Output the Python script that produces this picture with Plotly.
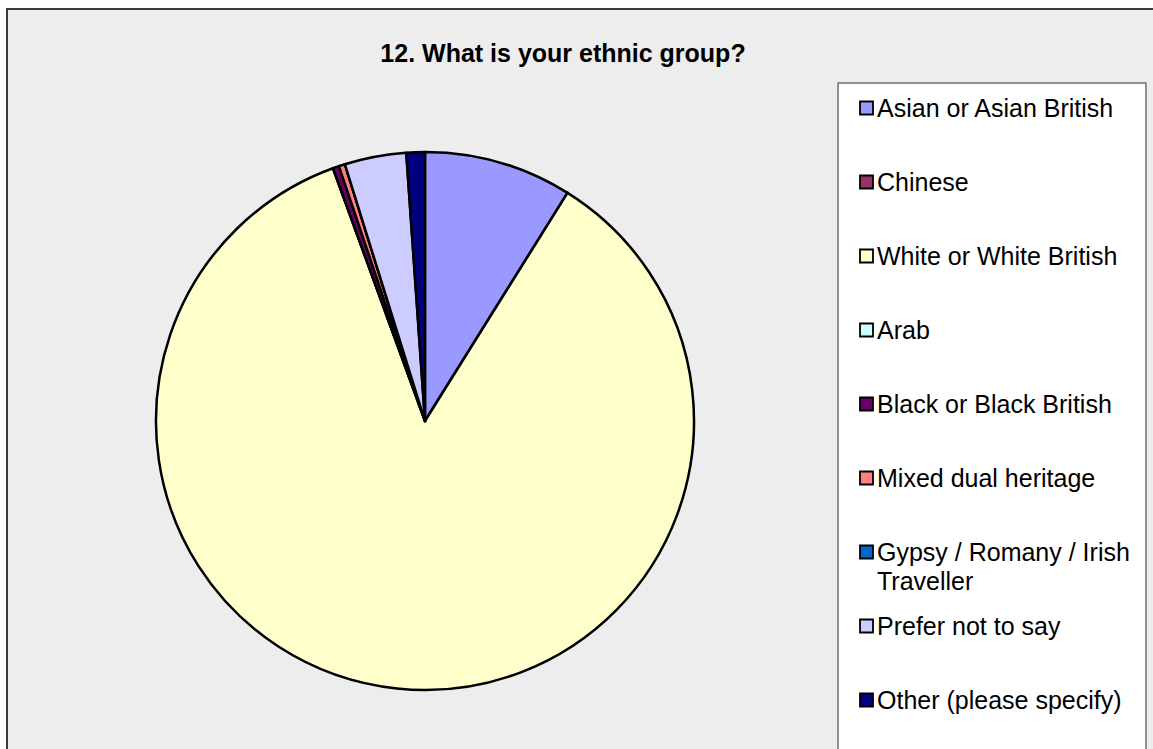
import plotly.graph_objects as go

# Survey responses: ethnic group
categories = [
    "Asian or Asian British",
    "Chinese",
    "White or White British",
    "Arab",
    "Black or Black British",
    "Mixed dual heritage",
    "Gypsy / Romany / Irish Traveller",
    "Prefer not to say",
    "Other (please specify)",
]
responses = [24, 0, 231, 0, 1, 1, 0, 10, 3]
colors = ["#9999FF", "#993366", "#FFFFCC", "#CCFFFF", "#660066",
          "#FF8080", "#0066CC", "#CCCCFF", "#000080"]
# how each legend label is broken across lines
legend_lines = [
    ["Asian or Asian British"],
    ["Chinese"],
    ["White or White British"],
    ["Arab"],
    ["Black or Black British"],
    ["Mixed dual heritage"],
    ["Gypsy / Romany / Irish", "Traveller"],
    ["Prefer not to say"],
    ["Other (please specify)"],
]

W, H = 1153, 749
FONT = "Liberation Sans, Arial, sans-serif"

def px(x):
    return x / W

def py(y):
    return 1 - y / H

cx, cy, r = 425, 421, 269

fig = go.Figure()
fig.add_trace(go.Pie(
    labels=categories,
    values=responses,
    marker=dict(colors=colors, line=dict(color="black", width=2.5)),
    sort=False,
    direction="clockwise",
    rotation=0,
    textinfo="none",
    showlegend=False,
    domain=dict(x=[px(cx - r), px(cx + r)], y=[py(cy + r), py(cy - r)]),
))

shapes = [
    # chart area frame
    dict(type="rect", xref="paper", yref="paper",
         x0=px(7), x1=px(1165), y0=py(9), y1=py(765),
         line=dict(color="#3a3a3a", width=2), fillcolor="#EDEDED", layer="below"),
    # legend box
    dict(type="rect", xref="paper", yref="paper",
         x0=px(838), x1=px(1146), y0=py(83), y1=py(760),
         line=dict(color="#707070", width=1.5), fillcolor="white", layer="below"),
]
annotations = []
for i, (lines, col) in enumerate(zip(legend_lines, colors)):
    yc = 108 + 74 * i
    shapes.append(dict(type="rect", xref="paper", yref="paper",
                       x0=px(860), x1=px(873), y0=py(yc - 6.5), y1=py(yc + 6.5),
                       line=dict(color="black", width=1.8), fillcolor=col, layer="above"))
    for j, line in enumerate(lines):
        annotations.append(dict(
            text=line, xref="paper", yref="paper",
            x=px(875), y=py(yc + 28.5 * j), xanchor="left", yanchor="middle",
            showarrow=False, font=dict(family=FONT, size=25, color="black"),
        ))

fig.update_layout(
    width=W, height=H,
    margin=dict(l=0, r=0, t=0, b=0),
    paper_bgcolor="white",
    title=dict(text="<b>12. What is your ethnic group?</b>",
               x=px(563), y=py(53), xanchor="center", yanchor="middle",
               font=dict(family=FONT, size=25, color="black")),
    shapes=shapes,
    annotations=annotations,
)

fig.write_html("out.html")
